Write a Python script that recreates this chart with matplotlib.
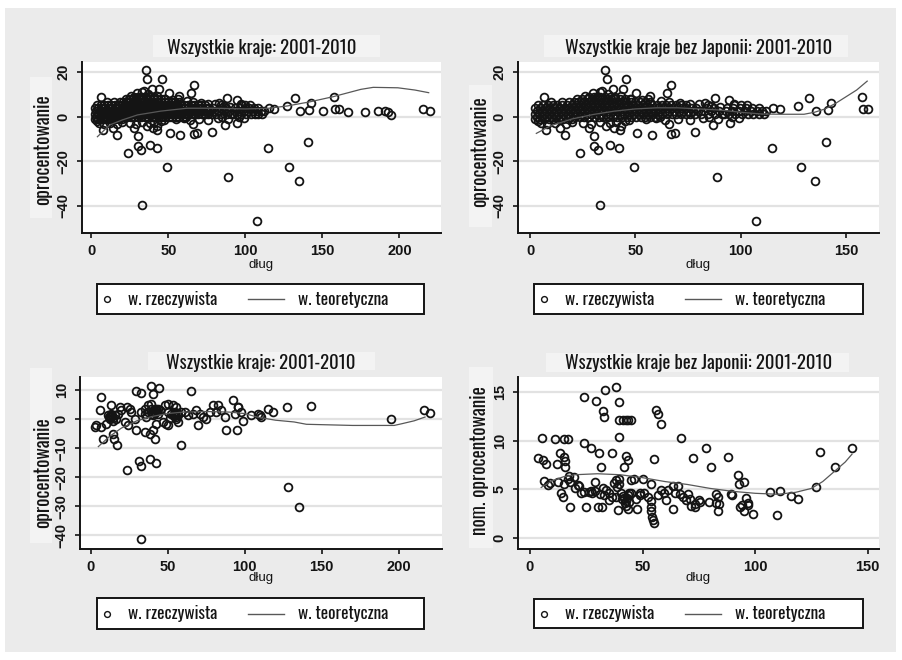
import matplotlib
matplotlib.use("Agg")
import matplotlib.pyplot as plt
from matplotlib.patches import Rectangle
from matplotlib.lines import Line2D

W, H = 902, 660
NARROW = ["Oswald", "DejaVu Sans"]
plt.rcParams["font.family"] = ["Liberation Sans", "DejaVu Sans"]

# --- all countries, annual data 2001-2010 (dlug vs oprocentowanie) ---
# dense band of observations: one row of dlug values per oprocentowanie level
band_y = [-1.2, 0.0, 1.3, 2.6, 3.9, 5.2, 6.5, 7.8, 9.0]
band_x = [
    [2.5, 4.6, 6.8, 9.0, 11.1, 13.3, 15.6, 17.8, 20.1],
    [3.4, 5.7, 7.9, 10.2, 12.4, 14.6, 16.9, 19.0, 21.3, 23.5, 25.8, 28.0, 30.2, 32.5,
     34.7, 37.0, 39.2, 41.4, 43.7, 45.9, 48.1, 50.4, 52.6, 54.8, 57.1, 59.3, 61.5],
    [2.3, 4.5, 6.8, 9.0, 11.2, 13.5, 15.7, 18.0, 20.2, 22.4, 24.7, 26.9, 29.1, 31.4,
     33.6, 35.9, 38.1, 40.3, 42.6, 44.8, 47.0, 49.3, 51.5, 53.7, 56.0, 58.2, 60.5, 62.7,
     64.9, 67.2, 69.4, 71.6, 73.9, 76.1, 78.4, 81.0, 84.5, 88.0, 91.0, 94.5, 97.5, 100.5,
     103.5, 106.0, 108.5, 111.0],
    [3.2, 5.6, 7.8, 10.1, 12.3, 14.6, 16.8, 19.1, 21.3, 23.6, 25.8, 28.0, 30.3, 32.5,
     34.8, 37.0, 39.2, 41.5, 43.7, 46.0, 48.2, 50.4, 52.7, 54.9, 57.2, 59.4, 61.6, 63.9,
     66.1, 68.3, 70.6, 72.8, 75.0, 77.3, 79.5, 82.5, 86.0, 89.5, 93.0, 96.0, 99.0, 102.0,
     105.0, 107.5, 110.0, 112.0],
    [2.4, 4.7, 6.9, 9.2, 11.4, 13.7, 15.9, 18.2, 20.4, 22.7, 24.9, 27.1, 29.4, 31.6,
     33.9, 36.1, 38.3, 40.6, 42.8, 45.1, 47.3, 49.5, 51.8, 54.0, 56.3, 58.5, 60.7, 63.0,
     65.2, 67.5, 69.7, 71.9, 74.2, 76.4, 78.8, 84.0, 87.5, 93.5, 96.5, 99.5, 102.5, 105.5,
     108.5],
    [4.0, 6.3, 8.5, 10.8, 13.0, 15.3, 17.5, 19.8, 22.0, 24.3, 26.5, 28.8, 31.0, 33.3,
     35.5, 37.7, 40.0, 42.2, 44.5, 46.7, 49.0, 51.2, 53.5, 55.7, 58.0, 60.2, 62.5, 64.7,
     67.0, 69.2, 71.5, 73.8, 84.5, 97.0, 100.0, 103.0],
    [18.5, 20.8, 23.0, 25.3, 27.5, 29.8, 32.0, 34.3, 36.5, 38.8, 41.0, 43.3, 45.5, 47.8,
     50.0, 52.3, 54.5, 56.8],
    [22.5, 24.8, 27.0, 29.3, 31.5, 33.8, 36.0, 38.3, 40.5, 42.8, 45.0, 47.3],
    [28.0, 30.5, 33.0, 35.5, 38.0, 40.5],
]

# scattered observations
obs_x = [35.6, 36.5, 45.7, 44.0, 39.2, 66.8, 64.9, 50.2, 57.0, 6.6, 33.2,
         23.9, 30.4, 30.4, 32.1, 38.0, 42.4, 49.4, 33.1, 50.9, 57.9, 67.0, 68.8, 78.5,
         16.6, 28.0, 7.5, 42.7,
         87.8, 94.4, 94.9, 87.0, 115.5, 118.6, 127.0, 132.2, 135.6, 141.3, 142.7, 157.7,
         158.2, 160.6, 115.0, 140.5, 88.8, 128.5, 135.0, 107.3,
         4, 5, 8, 12, 14, 17, 20, 25, 29, 33, 36, 38, 40, 41, 43, 45, 47, 55, 60, 64, 66,
         70, 76, 82, 85, 89, 92, 96, 99,
         10, 15, 26, 30, 32, 34, 37, 40, 43, 48, 53, 56, 62, 66, 71, 76, 80, 83, 86, 90, 97]
obs_y = [20.9, 16.9, 16.9, 12.3, 12.3, 14.2, 10.5, 10.5, 9.4, 8.7, 11.0,
         -16.1, -8.8, -13.4, -14.9, -12.7, -14.2, -22.4, -39.9, -7.4, -8.2, -7.8, -7.5, -6.9,
         -8.2, -5.2, -6.0, -6.0,
         8.3, 7.5, -3.0, -3.7, 4.0, 3.4, 4.8, 8.2, 2.6, 2.9, 6.0, 8.7,
         3.4, 3.4, -14.2, -11.5, -27.2, -22.4, -29.1, -47.1,
         -1.8, -3, -3.5, -3, -5, -3.5, -2.5, -3, -3.5, -2.5, -4, -3, -5, -2.5, -4, -2, -1.5,
         -1, -0.8, -1.5, -3.5, -1, -1.5, -0.5, 0, -1, 1, 0, -0.5,
         6.5, 6.5, 9.5, 10.5, 9, 11.5, 10, 8.5, 9.5, 8, 7.5, 8, 7, 6.5, 6, 5.5, 5.5, 6, 5,
         4.5, 5.5]

# Japan (only in the "all countries" panel)
jp_x = [150.6, 166.9, 177.7, 186.4, 190.8, 192.9, 194.4, 215.6, 220.0]
jp_y = [2.7, 2.3, 2.3, 2.5, 2.5, 2.0, 0.8, 3.5, 2.7]

# fitted curves (w. teoretyczna)
fit1_x = [4, 12, 20, 30, 45, 62, 80, 100, 115, 127, 142, 157, 175, 183, 199, 210, 219]
fit1_y = [-9, -3.7, -1.5, 0.8, 2.5, 3.8, 3.8, 3.5, 3.8, 4.8, 6.7, 9, 12.3, 13.2, 13, 12, 10.8]
fit2_x = [3, 10, 20, 30, 40, 50, 60, 70, 80, 90, 100, 110, 120, 130, 135, 140, 145, 150, 155, 160]
fit2_y = [-7.5, -4, -1, 1, 2.5, 3.5, 4, 4, 3.5, 3, 2, 1.2, 1.1, 1.1, 2, 3.5, 6, 9, 12, 16]

# --- all countries, averaged data ---
avg_x = [6.9, 5.8, 3.7, 6.5, 2.8, 8.0, 13.4, 11.2, 13.4, 15.6, 12.3, 14.5, 16.6, 17.7, 12.8,
         13.9, 14.2, 12.0, 13.0, 10.1, 14.5, 15.1, 17.3, 18.8, 19.9, 23.8, 26.4, 22.1, 24.2,
         28.5, 29.6, 23.8, 31.4, 32.9, 38.3, 42.2, 32.9, 29.2, 32.9, 39.4, 44.3, 40.5, 35.0,
         37.2, 39.4, 32.9, 35.0, 37.2, 39.4, 41.5, 43.7, 36.1, 40.5, 42.6, 44.8, 41.0, 42.0,
         43.0, 41.8, 40.0, 43.5, 35.0, 38.3, 40.5, 41.5, 48.0, 50.2, 53.4, 55.6, 50.2, 52.4,
         54.5, 56.7, 58.8, 51.3, 55.6, 54.0, 55.0, 56.0, 55.4, 53.8, 49.1, 56.7, 58.4, 64.9,
         61.0, 63.2, 66.4, 68.6, 70.8, 69.7, 72.9, 75.1, 77.2, 79.4, 82.7, 81.6, 84.8, 87.0,
         88.1, 95.2, 92.4, 95.6, 93.5, 97.8, 98.9, 104.3, 108.6, 42.6, 46.9, 50.2, 109.6,
         115.1, 118.4, 127.5, 142.9, 194.8, 216.2, 220.1, 128.2, 135.0, 95.8, 110.5, 25.5]
avg_y = [7.7, 3.1, -2.1, -2.7, -2.5, -6.7, 4.8, 1.4, 0.8, 1.4, 0.2, -0.4, 0.2, 1.9, 1.0,
         1.5, 0.6, 0.9, 1.8, -1.5, -5.0, -6.7, -8.7, 4.2, 3.1, 4.2, 2.5, -0.9, -2.1,
         0.2, -3.8, -17.3, -14.2, -16.2, -13.8, -15.1, -41.2, 9.8, 9.2, 11.5, 10.9, 8.6, 3.7,
         4.8, 5.4, 2.5, 1.9, 2.7, 3.4, 2.5, 1.9, 0.8, 1.4, 3.7, 3.1, 3.0, 2.2,
         2.8, 3.6, 2.0, 3.5, -4.4, -5.0, -3.8, -6.7, 4.8, 5.4, 4.8, 4.2, 2.5, 1.9,
         2.7, 1.4, 2.5, 0.4, 0.2, 1.2, 1.8, 2.2, 0.8, 2.0, -1.5, -1.0, -9.0, 9.8,
         2.5, 1.4, 1.9, 3.1, 1.9, -2.1, 0.8, 0.2, 2.5, 4.8, 4.8, 2.5, 3.1, 0.8,
         -3.8, -3.8, 6.8, 4.2, 1.9, 2.5, -0.4, 1.6, 1.9, -1.5, -1.0, -2.1, 1.4,
         3.7, 2.5, 4.2, 4.6, 0.2, 3.1, 2.2, -23.3, -30.2, 4.3, 0.7, 3.7]
fit3_x = [5, 12, 20, 30, 40, 50, 60, 75, 90, 100, 108, 120, 132, 140, 155, 170, 185, 197, 202, 210, 217]
fit3_y = [-9.4, -6, -3, -0.5, 1, 2, 2.5, 2.7, 2.5, 2, 0.8, -0.3, -0.9, -1.7, -1.9, -2.1, -2.1, -2.1, -1.5, -0.5, 0.8]

# --- without Japan, nominal interest rate ---
nom_x = [3.7, 5.6, 7.1, 5.3, 6.2, 11.0, 15.3, 16.7, 13.4, 15.3, 15.7, 15.7, 11.8, 12.3, 13.8,
         14.6, 15.0, 16.7, 17.5, 17.9, 19.7, 21.2, 22.7, 23.8, 23.8, 24.9, 26.3, 27.4, 27.1,
         29.3, 28.8, 30.1, 31.9, 30.8, 31.6, 32.3, 32.7, 33.5, 32.3, 33.8, 35.3, 36.4, 36.4,
         38.2, 39.4, 39.4, 39.7, 39.7, 39.7, 39.0, 37.5, 38.2, 40.4, 41.9, 42.7, 41.2, 42.7,
         43.7, 44.9, 42.7, 43.4, 41.9, 43.4, 44.2, 47.6, 46.4, 48.7, 50.2, 50.8, 52.3, 53.8,
         53.8, 53.8, 54.2, 54.5, 55.0, 53.8, 55.3, 56.0, 56.7, 58.2, 56.7, 58.2, 59.7, 61.2,
         60.5, 63.4, 65.6, 66.5, 68.0, 69.5, 70.2, 71.0, 67.1, 72.3, 73.1, 78.2, 75.2, 80.4,
         82.6, 83.4, 82.6, 83.4, 84.1, 88.0, 89.3, 92.3, 93.0, 95.0, 93.4, 95.0, 96.0, 96.8,
         99.0, 106.4, 109.8, 111.2, 116.0, 119.0, 126.9, 128.6, 135.3, 143.1, 41.0, 42.0,
         43.0, 44.0, 42.5, 43.5, 41.5, 45.0, 35.0, 33.0, 27.0, 45.0, 38.0, 38.5, 49.0, 47.0,
         29.0, 31.0, 24.0, 20.0, 18.0, 9.0, 8.0, 22.0, 73.3, 75.6, 79.3, 89.6, 94.1, 97.0,
         63.5, 64.5, 71.5]
nom_y = [8.2, 8.0, 7.6, 10.3, 5.9, 10.2, 10.2, 10.2, 8.7, 8.3, 7.9, 7.3, 7.6, 5.8, 4.6,
         4.2, 5.6, 6.1, 6.4, 3.2, 6.3, 5.5, 4.6, 14.5, 9.7, 3.2, 4.7, 4.6, 9.2,
         14.0, 5.8, 3.2, 3.2, 8.7, 7.3, 13.0, 12.4, 15.2, 5.1, 4.9, 4.6, 4.2, 8.7,
         15.5, 13.9, 12.1, 10.4, 6.1, 5.6, 2.9, 5.7, 4.2, 4.6, 4.1, 3.8, 12.1, 12.1,
         12.1, 12.1, 8.4, 8.0, 7.3, 3.0, 4.6, 3.0, 6.1, 4.6, 6.1, 4.6, 4.2, 3.8,
         3.2, 2.8, 2.2, 1.9, 1.6, 5.6, 8.1, 13.1, 12.7, 11.7, 4.4, 4.9, 4.6, 4.9,
         3.9, 3.0, 5.3, 4.5, 4.2, 3.9, 4.5, 4.0, 10.3, 8.2, 3.2, 9.2, 3.9, 7.3,
         4.5, 4.2, 3.6, 2.8, 3.5, 8.3, 4.5, 6.5, 5.6, 5.8, 3.2, 2.8, 4.1, 3.6,
         2.5, 4.7, 2.4, 4.8, 4.3, 4.0, 5.2, 8.8, 7.3, 9.2, 4.0, 3.6,
         4.1, 3.7, 3.3, 4.4, 4.3, 4.6, 3.9, 4.4, 4.8, 6.0, 6.0, 5.2, 4.4, 4.0,
         4.8, 4.5, 4.7, 5.1, 5.8, 5.7, 5.5, 5.3, 3.5, 3.7, 3.7, 4.4, 3.4, 3.4,
         5.3, 4.6, 3.3]
fit4_x = [5, 10, 15, 20, 30, 40, 50, 60, 70, 80, 90, 100, 110, 118, 125, 130, 135, 140, 143]
fit4_y = [5.2, 5.9, 6.3, 6.5, 6.6, 6.5, 6.2, 5.8, 5.5, 5.1, 4.8, 4.6, 4.5, 4.7, 5.1, 5.8, 6.8, 7.8, 8.6]

# flatten band
all_x = [x for row in band_x for x in row] + obs_x
all_y = [y for y, row in zip(band_y, band_x) for _ in row] + obs_y
nojp_x, nojp_y = all_x, all_y
withjp_x, withjp_y = all_x + jp_x, all_y + jp_y

BG = "#ebebeb"
BOX = "#f3f3f3"
INK = "#141414"

fig = plt.figure(figsize=(W / 100, H / 100), dpi=100)
fig.patch.set_facecolor("white")


def fr(l, t, r, b):
    return (l / W, 1 - b / H, (r - l) / W, (b - t) / H)


def rect(l, t, r, b, **kw):
    x, y, w, h = fr(l, t, r, b)
    fig.add_artist(Rectangle((x, y), w, h, transform=fig.transFigure, **kw))


rect(5, 8, 896, 652, facecolor=BG, edgecolor="none", zorder=-10)


def panel(box, title, tbox, ylabel, ybox, ylab_xy, xs, ys, fx, fy, xlim, ylim,
          xticks, yticks, legbox, xlab_y):
    l, t, r, b = box
    rect(*tbox, facecolor=BOX, edgecolor="none", zorder=-5)
    rect(*ybox, facecolor=BOX, edgecolor="none", zorder=-5)
    ax = fig.add_axes(fr(l, t, r, b))
    ax.set_facecolor("white")
    for s in ("top", "right"):
        ax.spines[s].set_visible(False)
    for s in ("left", "bottom"):
        ax.spines[s].set_linewidth(1.4)
        ax.spines[s].set_color(INK)
    ax.grid(axis="y", color="#e2e2e2", lw=1.6)
    ax.set_axisbelow(True)
    ax.plot(xs, ys, ls="none", marker="o", ms=5.6, mfc="none", mec=INK, mew=1.3)
    ax.plot(fx, fy, color="#585858", lw=0.9)
    ax.set_xlim(*xlim)
    ax.set_ylim(*ylim)
    ax.set_xticks(xticks)
    ax.set_yticks(yticks)
    ax.tick_params(direction="out", length=3.6, width=1.2, color=INK, labelsize=10.5,
                   pad=4.5, labelcolor=INK)
    for lab in ax.get_xticklabels() + ax.get_yticklabels():
        lab.set_fontweight("bold")
    for lab in ax.get_yticklabels():
        lab.set_rotation(90)
        lab.set_va("center")
    ax.set_title(title, fontfamily=NARROW, fontsize=13.5, color=INK, pad=6)
    ax.set_xlabel("dług", fontsize=9.5, color=INK)
    ax.xaxis.set_label_coords(0.5, xlab_y)
    ax.xaxis.label.set_va("center")
    ax.set_ylabel(ylabel, fontfamily=NARROW, fontsize=14, color=INK)
    ax.yaxis.set_label_coords(*ylab_xy)
    ax.yaxis.label.set_va("center")

    # legend box
    ll, lt, lr, lb = legbox
    rect(ll, lt, lr, lb, facecolor="white", edgecolor=INK, lw=1.4, zorder=5)
    yc = 1 - (lt + lb) / 2 / H
    fig.add_artist(Line2D([(ll + 10) / W], [yc], marker="o", ms=4.2, mfc="none", mec=INK,
                          mew=1.0, transform=fig.transFigure, zorder=6))
    fig.text((ll + 31) / W, yc, "w. rzeczywista", fontfamily=NARROW, fontsize=12.5,
             color=INK, va="center", zorder=6)
    fig.add_artist(Line2D([(ll + 151) / W, (ll + 187) / W], [yc, yc], color="#585858",
                          lw=1.0, transform=fig.transFigure, zorder=6))
    fig.text((ll + 201) / W, yc, "w. teoretyczna", fontfamily=NARROW, fontsize=12.5,
             color=INK, va="center", zorder=6)
    return ax


panel((82, 62, 441, 233), "Wszystkie kraje: 2001-2010", (153, 35, 380, 57),
      "oprocentowanie", (30, 77, 52, 218), (-0.111, 0.485),
      withjp_x, withjp_y, fit1_x, fit1_y, (-6, 227), (-52.3, 24.6),
      [0, 50, 100, 150, 200], [-40, -20, 0, 20], (97, 284, 424, 314), -0.187)

panel((518, 62, 879, 233), "Wszystkie kraje bez Japonii: 2001-2010", (544, 35, 848, 57),
      "oprocentowanie", (469, 85, 492, 227), (-0.108, 0.474),
      nojp_x, nojp_y, fit2_x, fit2_y, (-5.7, 165.6), (-52.3, 24.6),
      [0, 50, 100, 150], [-40, -20, 0, 20], (534, 284, 863, 314), -0.187)

panel((80, 377, 442, 549), "Wszystkie kraje: 2001-2010", (148, 352, 375, 370),
      "oprocentowanie", (30, 368, 52, 543), (-0.105, 0.442),
      avg_x, avg_y, fit3_x, fit3_y, (-6.9, 228), (-44.7, 14.6),
      [0, 50, 100, 150, 200], [-40, -30, -20, -10, 0, 10], (97, 598, 424, 629), -0.169)

panel((518, 377, 879, 549), "Wszystkie kraje bez Japonii: 2001-2010", (546, 353, 849, 372),
      "nom. oprocentowanie", (469, 367, 493, 548), (-0.108, 0.517),
      nom_x, nom_y, fit4_x, fit4_y, (-5.3, 155), (-1.1, 16.5),
      [0, 50, 100, 150], [0, 5, 10, 15], (534, 599, 863, 628), -0.169)

fig.savefig("out.png", dpi=100, facecolor=fig.get_facecolor())
